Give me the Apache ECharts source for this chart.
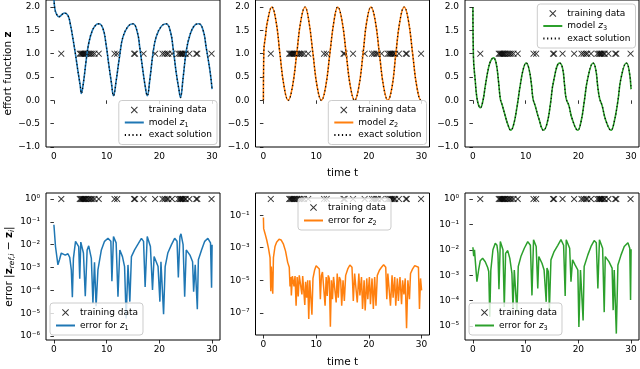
<!DOCTYPE html>
<html>
<head>
<meta charset="utf-8">
<script src="https://cdn.jsdelivr.net/npm/echarts@6/dist/echarts.min.js"></script>
<style>
  html, body { margin: 0; padding: 0; background: #fff; }
  #chart { width: 640px; height: 369px; }
</style>
</head>
<body>
<div id="chart"></div>
<script>
// training times (x marks, drawn at y = 1)
const trainT = [1.4, 4.9, 5.1, 5.3, 5.5, 5.7, 5.9, 6.1, 6.4, 6.7, 7.0, 7.3, 7.7, 8.5, 11.5, 12.0, 15.2, 15.4, 17.0, 19.2,
  20.6, 21.0, 21.4, 21.7, 22.4, 23.6, 23.9, 24.1, 24.3, 24.5, 24.8, 25.0, 25.7, 27.0, 27.2, 29.9];

// top row: model / exact solution
const t1 = [0, 0.15, 0.45, 0.95, 1.7, 2.0, 2.65, 3.1, 3.6, 4.1, 4.55, 5.0, 5.2, 5.6, 6.1, 6.6, 7.3, 8.0, 8.5, 9.3, 9.9,
  10.4, 10.9, 11.3, 11.8, 12.5, 13.1, 14.1, 15.0, 15.8, 16.3, 16.8, 17.3, 17.7, 18.2, 18.8, 19.4, 20.4, 21.3, 22.1, 22.6,
  23.2, 23.7, 24.0, 24.5, 25.1, 25.8, 26.7, 27.5, 28.3, 28.9, 29.6, 30.0];
const z1 = [2.25, 1.98, 1.86, 1.79, 1.855, 1.87, 1.82, 1.64, 1.33, 0.98, 0.63, 0.31, 0.15, 0.38, 0.84, 1.22, 1.50, 1.62, 1.64, 1.54, 1.19,
  0.77, 0.38, 0.10, 0.41, 0.98, 1.36, 1.59, 1.64, 1.47, 1.12, 0.70, 0.31, 0.10, 0.45, 1.01, 1.36, 1.59, 1.64, 1.47, 1.12,
  0.59, 0.24, 0.06, 0.48, 1.05, 1.40, 1.61, 1.64, 1.50, 1.12, 0.63, 0.24];

const t2 = [0, 0.08, 0.4, 0.8, 1.6, 2.4, 3.1, 3.9, 4.7, 5.5, 6.3, 7.1, 7.9, 8.6, 9.4, 10.2, 11.0, 11.8, 12.6, 13.4,
  14.1, 14.9, 15.7, 16.5, 17.3, 18.1, 18.9, 19.6, 20.4, 21.2, 22.0, 22.8, 23.6, 24.4, 25.1, 25.9, 26.7, 27.5, 28.3, 29.1, 29.9, 30.0];
const z2 = [0.0, 1.05, 1.38, 1.71, 2.0, 1.69, 1.03, 0.31, 0.0, 0.29, 0.98, 1.71, 2.0, 1.71, 1.0, 0.29, 0.0, 0.29, 1.0, 1.71,
  2.0, 1.71, 1.0, 0.29, 0.0, 0.29, 1.0, 1.69, 2.0, 1.71, 1.0, 0.29, 0.0, 0.29, 0.98, 1.71, 2.0, 1.71, 1.0, 0.29, 0.0, 0.01];

const t3 = [0, 0.1, 0.45, 0.75, 1.1, 1.4, 1.9, 2.35, 2.95, 3.4, 3.9, 4.4, 4.85, 5.2, 5.5, 6.1, 6.6, 7.2, 7.7, 8.35,
  9.0, 9.6, 10.1, 10.6, 11.1, 11.4, 11.8, 12.5, 13.4, 14.05, 14.7, 15.3, 16.45, 17.0, 17.4, 17.7, 18.2, 18.8, 19.9, 20.5,
  21.1, 21.8, 22.8, 23.3, 23.7, 24.05, 24.5, 25.2, 26.2, 26.8, 27.5, 28.1, 29.1, 29.6, 30.0];
const z3 = [2.0, 0.94, 0.41, 0.06, -0.11, -0.16, -0.01, 0.31, 0.69, 0.85, 0.91, 0.80, 0.41, 0.03, -0.08, -0.32, -0.51, -0.64, -0.53, -0.15,
  0.34, 0.69, 0.80, 0.69, 0.34, 0.03, -0.11, -0.39, -0.64, -0.50, -0.08, 0.41, 0.80, 0.69, 0.31, 0.03, -0.11, -0.39, -0.64, -0.46,
  -0.04, 0.48, 0.80, 0.66, 0.27, 0.03, -0.11, -0.43, -0.64, -0.46, -0.01, 0.48, 0.80, 0.66, 0.24];

// bottom row: errors
const te1 = [0, 0.3, 0.76, 1.08, 1.4, 1.7, 2.15, 2.66, 3.0, 3.3, 3.5, 3.7, 4.1, 4.4, 4.7, 4.9, 5.1, 5.4, 5.6, 5.95,
  6.3, 6.6, 7.1, 7.4, 7.7, 8.0, 8.35, 9.0, 9.6, 10.25, 10.8, 11.0, 11.3, 11.5, 11.8, 12.15, 12.5, 13.0, 13.4, 13.7,
  14.05, 14.4, 14.7, 15.3, 16.0, 16.6, 17.0, 17.3, 17.7, 17.9, 18.3, 18.7, 19.0, 19.4, 19.75, 20.1, 20.3, 20.6, 20.8, 21.1,
  21.6, 22.3, 22.9, 23.35, 23.6, 23.9, 24.1, 24.5, 24.8, 25.1, 25.8, 26.3, 26.5, 26.8, 27.0, 27.2, 27.4, 28.0, 28.6, 29.2,
  29.7, 29.9, 30.0];
const e1 = [7.4e-2, 8.3e-3, 1.3e-3, 2.3e-3, 4.3e-3, 4.0e-3, 3.5e-3, 4.0e-3, 2.8e-3, 7.9e-4, 5.0e-5, 2.5e-3, 1.4e-2, 1.7e-2, 8.3e-3, 3.2e-4, 1.3e-2, 1.5e-2, 4.3e-3, 5.6e-5,
  5.9e-3, 8.9e-3, 2.5e-3, 2.7e-5, 1.7e-3, 2.0e-5, 7.9e-4, 5.9e-3, 1.4e-2, 1.9e-2, 1.4e-2, 2.5e-4, 2.3e-2, 2.7e-2, 1.2e-2, 5.2e-5, 5.9e-3, 3.0e-3, 1.1e-3, 5.9e-6,
  1.3e-3, 3.2e-5, 3.0e-3, 5.9e-3, 1.1e-2, 1.9e-2, 1.4e-2, 1.4e-4, 2.3e-2, 2.7e-2, 8.3e-3, 1.05e-4, 3.0e-3, 1.8e-3, 1.1e-3, 3.2e-5, 1.8e-3, 1.5e-3, 9.1e-6, 1.1e-3,
  4.3e-3, 1.0e-2, 1.9e-2, 1.4e-2, 3.7e-4, 2.3e-2, 3.0e-2, 1.0e-2, 5.2e-5, 5.9e-3, 3.5e-3, 1.8e-3, 8.7e-5, 1.3e-3, 1.1e-3, 1.5e-5, 2.2e-3, 5.9e-3, 1.4e-2, 1.9e-2,
  1.2e-2, 1.3e-4, 1.0e-2];

const te2 = [0, 0.05, 0.3, 0.63, 0.95, 1.26, 1.4, 1.5, 1.6, 1.77, 1.9, 2.2, 2.5, 2.97, 3.35, 3.8, 4.2, 4.6, 4.8, 4.9,
  5.05, 5.2, 5.3, 5.5, 5.7, 5.8, 6.0, 6.2, 6.4, 6.6, 6.8, 7.1, 7.3, 7.45, 7.7, 7.85, 8.0, 8.2, 8.4, 8.6,
  8.8, 9.0, 9.2, 9.4, 9.7, 10.0, 10.3, 10.6, 10.8, 11.0, 11.2, 11.5, 11.7, 11.9, 12.1, 12.3, 12.5, 12.7, 12.9, 13.1,
  13.3, 13.6, 13.8, 14.0, 14.2, 14.4, 14.65, 14.85, 15.1, 15.35, 15.6, 16.0, 16.4, 16.8, 17.05, 17.3, 17.55, 17.8, 18.1, 18.3,
  18.6, 18.8, 19.1, 19.3, 19.6, 19.8, 20.1, 20.3, 20.6, 20.85, 21.1, 21.35, 21.6, 22.0, 22.4, 22.8, 23.2, 23.4, 23.6, 23.9,
  24.1, 24.4, 24.6, 24.9, 25.1, 25.4, 25.6, 25.9, 26.2, 26.4, 26.65, 26.9, 27.15, 27.4, 27.7, 27.9, 28.3, 28.7, 29.05, 29.4,
  29.6, 29.8, 30.0];
const e2 = [7.2e-2, 1.5e-2, 7.6e-3, 3.0e-3, 9.8e-4, 2.5e-4, 2.1e-6, 6.9e-5, 6.3e-5, 1.5e-6, 2.5e-4, 1.2e-3, 2.2e-3, 3.3e-3, 3.0e-3, 1.66e-3, 6.2e-4, 1.26e-4, 1.0e-4, 6.3e-5,
  4.2e-6, 1.6e-5, 1.17e-6, 1.8e-5, 1.6e-5, 4.2e-6, 1.8e-5, 2.7e-7, 1.6e-5, 1.0e-6, 2.0e-5, 1.6e-5, 1.35e-6, 1.8e-5, 1.4e-5, 3.0e-7, 8.1e-6, 8.5e-7, 1.0e-5, 4.1e-8,
  1.0e-5, 8.1e-6, 7.6e-8, 1.3e-5, 4.1e-5, 7.9e-5, 9.1e-5, 5.0e-5, 6.8e-7, 2.0e-5, 3.2e-5, 3.7e-5, 2.7e-7, 1.6e-5, 1.07e-6, 2.0e-5, 1.3e-5, 1.4e-8, 1.0e-5, 6.8e-7,
  1.6e-5, 1.3e-5, 4.3e-7, 2.6e-5, 8.5e-7, 1.6e-5, 1.0e-5, 2.7e-7, 1.0e-5, 5.4e-7, 2.0e-5, 5.0e-5, 8.7e-5, 6.3e-5, 5.4e-7, 2.6e-5, 3.2e-5, 4.3e-7, 2.6e-5, 1.17e-6,
  1.6e-5, 1.7e-7, 1.0e-5, 1.4e-7, 1.3e-5, 6.8e-7, 1.6e-5, 3.4e-7, 1.3e-5, 1.7e-7, 1.6e-5, 2.7e-7, 2.0e-5, 4.1e-5, 6.3e-5, 9.1e-5, 6.3e-5, 6.8e-7, 2.6e-5, 2.8e-5,
  2.7e-7, 2.0e-5, 8.5e-7, 1.6e-5, 2.7e-7, 1.3e-5, 5.4e-7, 1.6e-5, 3.4e-7, 1.0e-5, 1.35e-6, 1.3e-5, 1.12e-8, 1.0e-5, 6.8e-7, 2.6e-5, 5.0e-5, 7.9e-5, 9.1e-5, 6.3e-5,
  1.7e-7, 1.3e-5, 2.4e-6];

const te3 = [0, 0.15, 0.3, 0.44, 0.76, 1.08, 1.4, 1.84, 2.34, 2.8, 3.0, 3.2, 3.4, 3.8, 4.24, 4.56, 4.75, 4.94, 5.2, 5.3,
  5.7, 5.95, 6.2, 6.6, 7.0, 7.4, 7.6, 7.85, 8.0, 8.35, 8.6, 9.1, 9.75, 10.4, 10.9, 11.2, 11.5, 11.65, 12.0, 12.3,
  12.5, 13.1, 13.5, 13.9, 14.05, 14.3, 14.5, 14.8, 15.4, 16.1, 16.7, 17.2, 17.5, 17.7, 18.0, 18.35, 18.6, 18.9, 19.4, 19.9,
  20.1, 20.4, 20.6, 20.9, 21.1, 21.8, 22.4, 23.0, 23.4, 23.7, 24.0, 24.2, 24.6, 24.9, 25.1, 25.8, 26.4, 26.6, 26.8, 27.0,
  27.2, 27.5, 28.1, 28.7, 29.4, 29.75, 29.9, 30.0];
const e3 = [1.26e-2, 5.6e-3, 1.0e-2, 4.0e-3, 5.5e-4, 1.6e-3, 3.7e-3, 4.6e-3, 3.4e-3, 2.0e-3, 1.4e-3, 2.3e-5, 1.6e-3, 1.0e-2, 1.8e-2, 1.5e-2, 7.2e-3, 2.8e-4, 2.1e-2, 2.3e-2,
  1.0e-2, 5.6e-5, 7.2e-3, 9.3e-3, 4.6e-3, 1.17e-3, 4.9e-5, 1.6e-3, 1.4e-3, 3.5e-5, 2.2e-3, 5.4e-3, 1.15e-2, 2.1e-2, 1.5e-2, 1.6e-4, 2.5e-2, 2.9e-2, 1.35e-2, 3.0e-4,
  5.4e-3, 2.95e-3, 1.6e-3, 8.9e-5, 1.9e-3, 1.4e-3, 4.2e-5, 4.0e-3, 8.5e-3, 1.5e-2, 2.5e-2, 1.5e-2, 1.5e-4, 2.5e-2, 2.9e-2, 1.15e-2, 5.5e-4, 4.0e-3, 2.5e-3, 1.6e-3,
  9.1e-6, 1.6e-3, 1.4e-3, 1.66e-5, 2.2e-3, 6.3e-3, 1.35e-2, 2.3e-2, 1.9e-2, 3.0e-4, 2.5e-2, 2.9e-2, 1.15e-2, 3.5e-5, 5.4e-3, 3.4e-3, 1.9e-3, 4.2e-5, 1.6e-3, 1.4e-3,
  5.0e-6, 2.5e-3, 6.3e-3, 1.35e-2, 1.9e-2, 1.15e-2, 1.05e-4, 1.05e-2];

// axis ticks
const xTicks = [0, 10, 20, 30];
const zTicks = [-1, -0.5, 0, 0.5, 1, 1.5, 2];
const errTicks = [
  [1, 1e-1, 1e-2, 1e-3, 1e-4, 1e-5, 1e-6],
  [1e-1, 1e-3, 1e-5, 1e-7],
  [1, 1e-1, 1e-2, 1e-3, 1e-4, 1e-5]
];
const errRange = [[6.7e-7, 1.83], [4.3e-9, 2.33], [2.8e-6, 1.72]];

const modelNames = ['model z1', 'model z2', 'model z3'];
const errNames = ['error for z1', 'error for z2', 'error for z3'];
const colors = ['#1f77b4', '#ff7f0e', '#2ca02c'];

const FONT = 'DejaVu Sans';
const xMark = 'path://M0,1L1,0L5,4L9,0L10,1L6,5L10,9L9,10L5,6L1,10L0,9L4,5Z';
const lefts = [46, 255.5, 465];

const zip = (xs, ys) => xs.map((x, i) => [x, ys[i]]);
const topT = [t1, t2, t3];
const topZ = [z1, z2, z3];
const errT = [te1, te2, te3];
const errV = [e1, e2, e3];

const supMap = { '-': '⁻', '0': '⁰', '1': '¹', '2': '²', '3': '³', '4': '⁴', '5': '⁵', '6': '⁶', '7': '⁷', '8': '⁸', '9': '⁹' };
const pow10Label = v => '10' + String(Math.round(Math.log10(v))).split('').map(c => supMap[c]).join('');

const richStyles = {
  i: { fontFamily: FONT, fontSize: 9, fontStyle: 'italic', lineHeight: 12 },
  s: { fontFamily: FONT, fontSize: 6.5, lineHeight: 7, verticalAlign: 'bottom' }
};
const legendName = name => {
  const m = name.match(/^(.*)z(\d)$/);
  return m ? m[1] + '{i|z}{s|' + m[2] + '}' : name;
};
// line entries: hide the marker that the legend puts on line icons
const lineItem = name => ({ name: name, itemStyle: { opacity: 0 } });

const grids = [], xAxes = [], yAxes = [], series = [];

for (let p = 0; p < 6; p++) {
  const c = p % 3;
  const top = p < 3;
  grids.push({
    left: lefts[c], top: top ? -2 : 193, width: 174, height: top ? 149 : 147,
    show: true, borderColor: '#000', borderWidth: 1, backgroundColor: 'transparent'
  });
  xAxes.push({
    type: 'value', gridIndex: p, min: -1.5, max: 31.5,
    name: c === 1 ? 'time t' : '', nameLocation: 'middle', nameGap: top ? 21 : 22,
    nameTextStyle: { fontFamily: FONT, fontSize: 10.5, color: '#000' },
    axisLine: { show: false },
    axisTick: { customValues: xTicks, length: 3.5, lineStyle: { color: '#000', width: 0.8 } },
    axisLabel: { customValues: xTicks, margin: 5, fontFamily: FONT, fontSize: 9, color: '#000' },
    splitLine: { show: false }
  });
  if (top) {
    yAxes.push({
      type: 'value', gridIndex: p, min: -1, max: 2.15,
      name: c === 0 ? '{n|effort function }{b|z}' : '', nameLocation: 'middle', nameGap: 31, nameRotate: 90,
      nameTextStyle: { fontFamily: FONT, fontSize: 10.5, color: '#000',
        rich: { n: { fontFamily: FONT, fontSize: 10.5 }, b: { fontFamily: FONT, fontSize: 10.5, fontWeight: 'bold' } } },
      axisLine: { show: false },
      axisTick: { customValues: zTicks, length: 3.5, lineStyle: { color: '#000', width: 0.8 } },
      axisLabel: { customValues: zTicks, margin: 6, fontFamily: FONT, fontSize: 9, color: '#000',
        formatter: v => v.toFixed(1).replace('-', '−') },
      splitLine: { show: false }
    });
  } else {
    yAxes.push({
      type: 'log', logBase: 10, gridIndex: p, min: errRange[c][0], max: errRange[c][1],
      name: c === 0 ? '{n|error |}{b|z}{s|ref,i}{n| − }{b|z}{s|i}{n||}' : '',
      nameLocation: 'middle', nameGap: 30, nameRotate: 90,
      nameTextStyle: { fontFamily: FONT, fontSize: 10.5, color: '#000',
        rich: {
          n: { fontFamily: FONT, fontSize: 10.5, lineHeight: 14 },
          b: { fontFamily: FONT, fontSize: 10.5, fontWeight: 'bold', lineHeight: 14 },
          s: { fontFamily: FONT, fontSize: 7.5, fontStyle: 'italic', lineHeight: 8, verticalAlign: 'bottom' }
        } },
      axisLine: { show: false },
      axisTick: { customValues: errTicks[c], length: 3.5, lineStyle: { color: '#000', width: 0.8 } },
      axisLabel: { customValues: errTicks[c], margin: 6, fontFamily: FONT, fontSize: 9, color: '#000',
        formatter: pow10Label },
      splitLine: { show: false }
    });
  }

  series.push({
    type: 'scatter', name: 'training data', xAxisIndex: p, yAxisIndex: p,
    data: trainT.map(t => [t, 1]), symbol: xMark, symbolSize: 6.5,
    itemStyle: { color: '#000' }, silent: true
  });
  if (top) {
    series.push({
      type: 'line', name: modelNames[c], xAxisIndex: p, yAxisIndex: p,
      data: zip(topT[c], topZ[c]), smooth: 0.45, symbol: 'none', color: colors[c],
      lineStyle: { color: colors[c], width: 1.6 }
    });
    series.push({
      type: 'line', name: 'exact solution', xAxisIndex: p, yAxisIndex: p,
      data: zip(topT[c], topZ[c]), smooth: 0.45, symbol: 'none', color: '#000',
      lineStyle: { color: '#000', width: 1.2, type: [1.2, 2.6] }
    });
  } else {
    series.push({
      type: 'line', name: errNames[c], xAxisIndex: p, yAxisIndex: p,
      data: zip(errT[c], errV[c]), symbol: 'none', color: colors[c],
      lineStyle: { color: colors[c], width: 1.5 }
    });
  }
}

const legendBase = {
  orient: 'vertical', itemWidth: 19, itemHeight: 7, itemGap: 0.5,
  padding: [3.5, 5, 3.5, 5], selectedMode: false,
  backgroundColor: 'rgba(255,255,255,0.8)', borderColor: '#cccccc', borderWidth: 1, borderRadius: 3,
  textStyle: { fontFamily: FONT, fontSize: 9, color: '#000', lineHeight: 12, rich: richStyles },
  formatter: legendName
};
const legends = [
  Object.assign({}, legendBase, { data: ['training data', lineItem('model z1'), lineItem('exact solution')], right: 423, bottom: 224.5 }),
  Object.assign({}, legendBase, { data: ['training data', lineItem('model z2'), lineItem('exact solution')], right: 213.5, bottom: 224.5 }),
  Object.assign({}, legendBase, { data: ['training data', lineItem('model z3'), lineItem('exact solution')], right: 4.5, top: 4 }),
  Object.assign({}, legendBase, { data: ['training data', lineItem('error for z1')], left: 50, bottom: 34, itemGap: 1 }),
  Object.assign({}, legendBase, { data: ['training data', lineItem('error for z2')], left: 298, top: 198, itemGap: 1 }),
  Object.assign({}, legendBase, { data: ['training data', lineItem('error for z3')], left: 469, bottom: 34, itemGap: 1 })
];

const chart = echarts.init(document.getElementById('chart'), null, { renderer: 'canvas' });
chart.setOption({
  animation: false,
  backgroundColor: '#fff',
  grid: grids,
  xAxis: xAxes,
  yAxis: yAxes,
  legend: legends,
  series: series
});
</script>
</body>
</html>
